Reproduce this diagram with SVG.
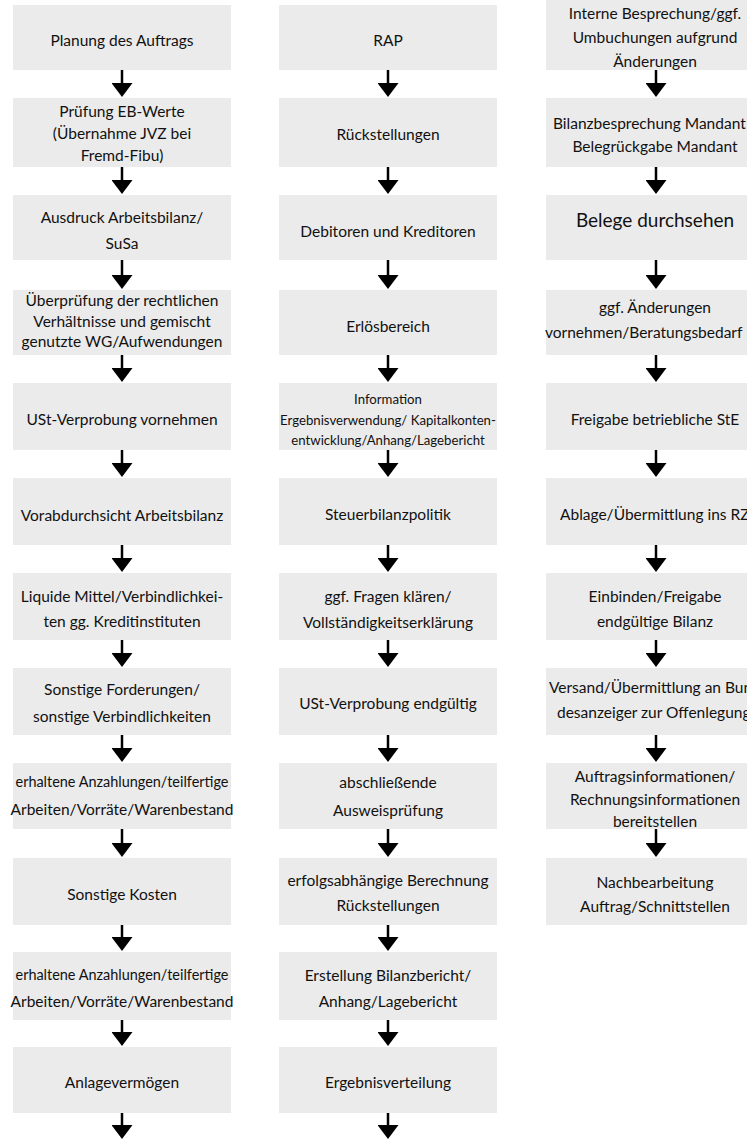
<svg xmlns="http://www.w3.org/2000/svg" width="747" height="1139" viewBox="0 0 747 1139">
<style>
.box{fill:#ebebeb}
.t{font-family:Lato,"Open Sans","Liberation Sans",sans-serif;font-size:15.5px;fill:#111;text-anchor:middle}
.s{text-anchor:start}
.sm{font-size:13.2px}
.lg{font-size:19px}
.conn line{stroke:#000;stroke-width:2.5;marker-end:url(#ah)}
</style>
<defs>
<marker id="ah" viewBox="0 -10.5 14 21" refX="0" refY="0" markerWidth="14" markerHeight="21" markerUnits="userSpaceOnUse" orient="auto">
<path d="M0,-10.5 L14,0 L0,10.5 z" fill="#000"/>
</marker>
</defs>
<rect width="747" height="1139" fill="#fff"/>

<!-- Column 1 -->
<g id="c1n1"><rect class="box" x="13" y="5" width="218" height="65"/><text class="t" x="122" y="46">Planung des Auftrags</text></g>
<g id="c1n2"><rect class="box" x="13" y="98" width="218" height="69"/><text class="t" x="122" y="117">Prüfung EB-Werte</text><text class="t" x="122" y="139">(Übernahme JVZ bei</text><text class="t" x="122" y="161">Fremd-Fibu)</text></g>
<g id="c1n3"><rect class="box" x="13" y="195" width="218" height="65"/><text class="t" x="122" y="223">Ausdruck Arbeitsbilanz/</text><text class="t" x="122" y="249">SuSa</text></g>
<g id="c1n4"><rect class="box" x="13" y="290" width="218" height="65"/><text class="t" x="122" y="306">Überprüfung der rechtlichen</text><text class="t" x="122" y="327">Verhältnisse und gemischt</text><text class="t" x="122" y="347">genutzte WG/Aufwendungen</text></g>
<g id="c1n5"><rect class="box" x="13" y="383" width="218" height="67"/><text class="t" x="122" y="425">USt-Verprobung vornehmen</text></g>
<g id="c1n6"><rect class="box" x="13" y="478" width="218" height="67"/><text class="t" x="122" y="521">Vorabdurchsicht Arbeitsbilanz</text></g>
<g id="c1n7"><rect class="box" x="13" y="573" width="218" height="67"/><text class="t" x="122" y="602">Liquide Mittel/Verbindlichkei-</text><text class="t" x="122" y="627">ten gg. Kreditinstituten</text></g>
<g id="c1n8"><rect class="box" x="13" y="668" width="218" height="67"/><text class="t" x="122" y="695">Sonstige Forderungen/</text><text class="t" x="122" y="722">sonstige Verbindlichkeiten</text></g>
<g id="c1n9"><rect class="box" x="13" y="763" width="218" height="66"/><text class="t" x="122" y="787" textLength="213" lengthAdjust="spacingAndGlyphs">erhaltene Anzahlungen/teilfertige</text><text class="t" x="122" y="815">Arbeiten/Vorräte/Warenbestand</text></g>
<g id="c1n10"><rect class="box" x="13" y="858" width="218" height="67"/><text class="t" x="122" y="900">Sonstige Kosten</text></g>
<g id="c1n11"><rect class="box" x="13" y="952" width="218" height="68"/><text class="t" x="122" y="980" textLength="213" lengthAdjust="spacingAndGlyphs">erhaltene Anzahlungen/teilfertige</text><text class="t" x="122" y="1007">Arbeiten/Vorräte/Warenbestand</text></g>
<g id="c1n12"><rect class="box" x="13" y="1047" width="218" height="66"/><text class="t" x="122" y="1088">Anlagevermögen</text></g>

<!-- Column 2 -->
<g id="c2n1"><rect class="box" x="279" y="5" width="218" height="65"/><text class="t" x="388" y="46">RAP</text></g>
<g id="c2n2"><rect class="box" x="279" y="98" width="218" height="69"/><text class="t" x="388" y="140">Rückstellungen</text></g>
<g id="c2n3"><rect class="box" x="279" y="195" width="218" height="65"/><text class="t" x="388" y="237">Debitoren und Kreditoren</text></g>
<g id="c2n4"><rect class="box" x="279" y="290" width="218" height="65"/><text class="t" x="388" y="332">Erlösbereich</text></g>
<g id="c2n5"><rect class="box" x="279" y="383" width="218" height="67"/><text class="t sm" x="388" y="404">Information</text><text class="t sm" x="388" y="425">Ergebnisverwendung/ Kapitalkonten-</text><text class="t sm" x="388" y="445">entwicklung/Anhang/Lagebericht</text></g>
<g id="c2n6"><rect class="box" x="279" y="478" width="218" height="67"/><text class="t" x="388" y="520">Steuerbilanzpolitik</text></g>
<g id="c2n7"><rect class="box" x="279" y="573" width="218" height="67"/><text class="t" x="388" y="602">ggf. Fragen klären/</text><text class="t" x="388" y="628">Vollständigkeitserklärung</text></g>
<g id="c2n8"><rect class="box" x="279" y="668" width="218" height="67"/><text class="t" x="388" y="709">USt-Verprobung endgültig</text></g>
<g id="c2n9"><rect class="box" x="279" y="763" width="218" height="66"/><text class="t" x="388" y="788">abschließende</text><text class="t" x="388" y="816">Ausweisprüfung</text></g>
<g id="c2n10"><rect class="box" x="279" y="858" width="218" height="67"/><text class="t" x="388" y="886">erfolgsabhängige Berechnung</text><text class="t" x="388" y="911">Rückstellungen</text></g>
<g id="c2n11"><rect class="box" x="279" y="952" width="218" height="68"/><text class="t" x="388" y="981">Erstellung Bilanzbericht/</text><text class="t" x="388" y="1007">Anhang/Lagebericht</text></g>
<g id="c2n12"><rect class="box" x="279" y="1047" width="218" height="66"/><text class="t" x="388" y="1088">Ergebnisverteilung</text></g>

<!-- Column 3 -->
<g id="c3n1"><rect class="box" x="546" y="0" width="218" height="70"/><text class="t" x="655" y="19">Interne Besprechung/ggf.</text><text class="t" x="655" y="43">Umbuchungen aufgrund</text><text class="t" x="655" y="67">Änderungen</text></g>
<g id="c3n2"><rect class="box" x="546" y="98" width="218" height="69"/><text class="t s" x="553" y="129">Bilanzbesprechung Mandant</text><text class="t" x="655" y="152">Belegrückgabe Mandant</text></g>
<g id="c3n3"><rect class="box" x="546" y="195" width="218" height="65"/><text class="t lg" x="655" y="227">Belege durchsehen</text></g>
<g id="c3n4"><rect class="box" x="546" y="290" width="218" height="65"/><text class="t" x="655" y="313">ggf. Änderungen</text><text class="t s" x="545" y="338">vornehmen/Beratungsbedarf</text></g>
<g id="c3n5"><rect class="box" x="546" y="383" width="218" height="67"/><text class="t" x="655" y="425">Freigabe betriebliche StE</text></g>
<g id="c3n6"><rect class="box" x="546" y="478" width="218" height="67"/><text class="t s" x="560" y="520">Ablage/Übermittlung ins RZ</text></g>
<g id="c3n7"><rect class="box" x="546" y="573" width="218" height="67"/><text class="t" x="655" y="602">Einbinden/Freigabe</text><text class="t" x="655" y="627">endgültige Bilanz</text></g>
<g id="c3n8"><rect class="box" x="546" y="668" width="218" height="67"/><text class="t s" x="549" y="693">Versand/Übermittlung an Bun</text><text class="t s" x="557" y="718">desanzeiger zur Offenlegung</text></g>
<g id="c3n9"><rect class="box" x="546" y="763" width="218" height="66"/><text class="t" x="655" y="782">Auftragsinformationen/</text><text class="t" x="655" y="805">Rechnungsinformationen</text><text class="t" x="655" y="827">bereitstellen</text></g>
<g id="c3n10"><rect class="box" x="546" y="858" width="218" height="67"/><text class="t" x="655" y="888">Nachbearbeitung</text><text class="t" x="655" y="912">Auftrag/Schnittstellen</text></g>

<g id="connectors" class="conn">
<line x1="122" y1="70" x2="122" y2="83"/>
<line x1="122" y1="167" x2="122" y2="180"/>
<line x1="122" y1="260" x2="122" y2="275"/>
<line x1="122" y1="355" x2="122" y2="368"/>
<line x1="122" y1="450" x2="122" y2="463"/>
<line x1="122" y1="545" x2="122" y2="558"/>
<line x1="122" y1="640" x2="122" y2="653"/>
<line x1="122" y1="735" x2="122" y2="748"/>
<line x1="122" y1="829" x2="122" y2="843"/>
<line x1="122" y1="925" x2="122" y2="937"/>
<line x1="122" y1="1020" x2="122" y2="1032"/>
<line x1="122" y1="1113" x2="122" y2="1125"/>

<line x1="388" y1="70" x2="388" y2="83"/>
<line x1="388" y1="167" x2="388" y2="180"/>
<line x1="388" y1="260" x2="388" y2="275"/>
<line x1="388" y1="355" x2="388" y2="368"/>
<line x1="388" y1="450" x2="388" y2="463"/>
<line x1="388" y1="545" x2="388" y2="558"/>
<line x1="388" y1="640" x2="388" y2="653"/>
<line x1="388" y1="735" x2="388" y2="748"/>
<line x1="388" y1="829" x2="388" y2="843"/>
<line x1="388" y1="925" x2="388" y2="937"/>
<line x1="388" y1="1020" x2="388" y2="1032"/>
<line x1="388" y1="1113" x2="388" y2="1125"/>

<line x1="656" y1="70" x2="656" y2="83"/>
<line x1="656" y1="167" x2="656" y2="180"/>
<line x1="656" y1="260" x2="656" y2="275"/>
<line x1="656" y1="355" x2="656" y2="368"/>
<line x1="656" y1="450" x2="656" y2="463"/>
<line x1="656" y1="545" x2="656" y2="558"/>
<line x1="656" y1="640" x2="656" y2="653"/>
<line x1="656" y1="735" x2="656" y2="748"/>
<line x1="656" y1="829" x2="656" y2="843"/>
</g>
</svg>
